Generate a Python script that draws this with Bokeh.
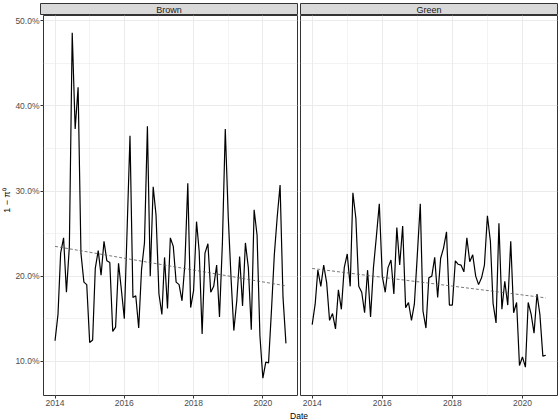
import numpy as np
import pandas as pd
from bokeh.plotting import figure
from bokeh.layouts import row, column
from bokeh.models import Range1d, FixedTicker, PrintfTickFormatter
from bokeh.embed import file_html
from bokeh.resources import INLINE
from bokeh.core.properties import value

# ---------------- data ----------------
facets = ["Brown", "Green"]
start_month = "2014-01-01"
n_months = 81

brown = [12.4, 15.5, 22.7, 24.5, 18.1, 23.5, 48.6, 37.3, 42.2, 22.7,
         19.3, 19.0, 12.2, 12.5, 20.9, 23.0, 20.1, 24.1, 21.8, 21.6,
         13.5, 14.0, 21.5, 18.4, 15.0, 26.0, 36.5, 17.5, 17.7, 13.9,
         20.8, 23.9, 37.6, 20.0, 30.5, 27.2, 17.9, 15.5, 22.2, 16.2,
         24.5, 23.5, 19.3, 19.0, 17.1, 21.4, 30.9, 16.3, 18.3, 26.4,
         22.9, 13.2, 22.7, 23.8, 18.1, 18.8, 21.3, 15.2, 24.0, 37.3,
         27.0, 19.5, 13.6, 17.1, 22.3, 16.5, 23.9, 21.0, 13.7, 27.8,
         24.8, 13.0, 8.0, 9.9, 9.8, 16.0, 22.5, 27.0, 30.7, 17.5, 12.1]

green = [14.3, 16.7, 20.7, 18.8, 21.3, 19.2, 14.8, 15.6, 13.8, 18.4,
         16.1, 21.0, 22.6, 18.8, 29.8, 26.8, 18.8, 18.1, 15.7, 20.7,
         15.2, 21.0, 24.7, 28.5, 20.0, 18.1, 21.0, 21.9, 17.9, 25.7,
         21.3, 25.9, 16.3, 16.9, 14.8, 16.7, 22.5, 28.5, 15.9, 13.9,
         19.8, 20.0, 22.2, 17.5, 22.1, 23.3, 25.2, 16.6, 16.6, 21.8,
         21.4, 21.3, 20.5, 24.5, 21.7, 22.5, 20.0, 19.0, 19.8, 21.3,
         27.1, 24.1, 16.8, 14.5, 26.2, 16.1, 19.4, 16.6, 24.1, 15.7,
         16.9, 9.5, 10.5, 9.3, 16.9, 15.5, 13.3, 17.9, 15.5, 10.6, 10.7]

x_ticks = [2014, 2016, 2018, 2020]
x_minor = [2015, 2017, 2019]
y_ticks = [10, 20, 30, 40, 50]
y_minor = [15, 25, 35, 45]
y_title = "1 \u2212 \u03c0\u2070"
x_title = "Date"

# ---------------- style / geometry ----------------
FONT = "Liberation Sans"
YLAB_W = 12
AX_W = 28
F = 257
STRIP_TOP = 3
STRIP_FRAME = 12
FRAME_H = 380
AXIS_B = 14
DATE_H = 11
BORDER = "#333333"
GRID = "#EBEBEB"

STRIP_H = STRIP_TOP + STRIP_FRAME
PANEL_H = FRAME_H + AXIS_B
TOTAL_H = STRIP_H + PANEL_H + DATE_H
LEFT_W = AX_W + F + 2
RIGHT_W = 1 + F + 3

dates = pd.date_range(start_month, periods=n_months, freq="MS")
days_in_year = np.where(dates.is_leap_year, 366, 365)
xdec = np.asarray(dates.year + (dates.dayofyear - 1) / days_in_year, dtype=float)

xmin, xmax = xdec.min(), xdec.max()
allv = np.array(brown + green)
ymin, ymax = allv.min(), allv.max()
xpad = 0.05 * (xmax - xmin)
ypad = 0.05 * (ymax - ymin)


def base_fig(width, height, bl, br, bt, bb, **kw):
    p = figure(width=width, height=height, toolbar_location=None,
               output_backend="svg", min_border_left=bl, min_border_right=br,
               min_border_top=bt, min_border_bottom=bb, **kw)
    p.border_fill_color = "white"
    p.background_fill_color = "white"
    return p


def strip(label, width, bl, br):
    s = base_fig(width, STRIP_H, bl, br, STRIP_TOP, 0,
                 x_range=Range1d(0, 1), y_range=Range1d(0, 1),
                 x_axis_location=None, y_axis_location=None)
    s.grid.visible = False
    s.background_fill_color = "#D9D9D9"
    s.outline_line_color = BORDER
    s.outline_line_width = 1
    s.text(x=[0.5], y=[0.5], text=[label], text_align="center",
           text_baseline="middle", text_font=value(FONT),
           text_font_size="9px", text_color="#1A1A1A")
    return s


def panel(vals, width, bl, br, show_y):
    p = base_fig(width, PANEL_H, bl, br, 0, AXIS_B,
                 x_range=Range1d(xmin - xpad, xmax + xpad),
                 y_range=Range1d(ymin - ypad, ymax + ypad),
                 y_axis_location="left" if show_y else None)
    p.outline_line_color = BORDER
    p.outline_line_width = 1
    p.xgrid.ticker = FixedTicker(ticks=x_ticks, minor_ticks=x_minor)
    p.ygrid.ticker = FixedTicker(ticks=y_ticks, minor_ticks=y_minor)
    for g in (p.xgrid, p.ygrid):
        g.grid_line_color = GRID
        g.grid_line_width = 1
        g.minor_grid_line_color = GRID
        g.minor_grid_line_width = 0.6
    axes = [p.xaxis[0]] + ([p.yaxis[0]] if show_y else [])
    for ax in axes:
        ax.axis_line_color = None
        ax.major_tick_line_color = BORDER
        ax.major_tick_line_width = 1
        ax.major_tick_out = 3
        ax.major_tick_in = 0
        ax.minor_tick_out = 0
        ax.minor_tick_in = 0
        ax.major_label_standoff = 1
        ax.major_label_text_font = FONT
        ax.major_label_text_font_size = "8.5px"
        ax.major_label_text_color = "#4D4D4D"
    p.xaxis.ticker = FixedTicker(ticks=x_ticks)
    if show_y:
        p.yaxis.ticker = FixedTicker(ticks=y_ticks)
        p.yaxis.formatter = PrintfTickFormatter(format="%.1f%%")
    p.line(xdec, vals, line_color="black", line_width=1.2)
    coef = np.polyfit(xdec, np.asarray(vals, dtype=float), 1)
    tx = np.array([xmin, xmax])
    p.line(tx, np.polyval(coef, tx), line_color="#555555",
           line_width=0.8, line_dash="3 2")
    return p


strip_l = strip(facets[0], LEFT_W, AX_W, 2)
strip_r = strip(facets[1], RIGHT_W, 1, 3)
panel_l = panel(brown, LEFT_W, AX_W, 2, True)
panel_r = panel(green, RIGHT_W, 1, 3, False)

date_fig = base_fig(LEFT_W + RIGHT_W, DATE_H, AX_W, 3, 0, 0,
                    x_range=Range1d(0, 1), y_range=Range1d(0, 1),
                    x_axis_location=None, y_axis_location=None)
date_fig.grid.visible = False
date_fig.outline_line_color = None
date_fig.text(x=[0.5], y=[0.5], text=[x_title], text_align="center",
              text_baseline="middle", text_font=value(FONT),
              text_font_size="8.5px", text_color="black")

ylab = base_fig(YLAB_W, TOTAL_H, 0, 0, 0, 0,
                x_range=Range1d(0, YLAB_W), y_range=Range1d(0, TOTAL_H),
                x_axis_location=None, y_axis_location=None)
ylab.grid.visible = False
ylab.outline_line_color = None
ylab.text(x=[6.5], y=[TOTAL_H - 200], text=[y_title], angle=np.pi / 2,
          text_align="center", text_baseline="middle", text_font=value(FONT),
          text_font_size="9px", text_color="black")

layout = row(ylab, column(row(strip_l, strip_r), row(panel_l, panel_r), date_fig))

open("out.html", "w").write(file_html(layout, INLINE))
